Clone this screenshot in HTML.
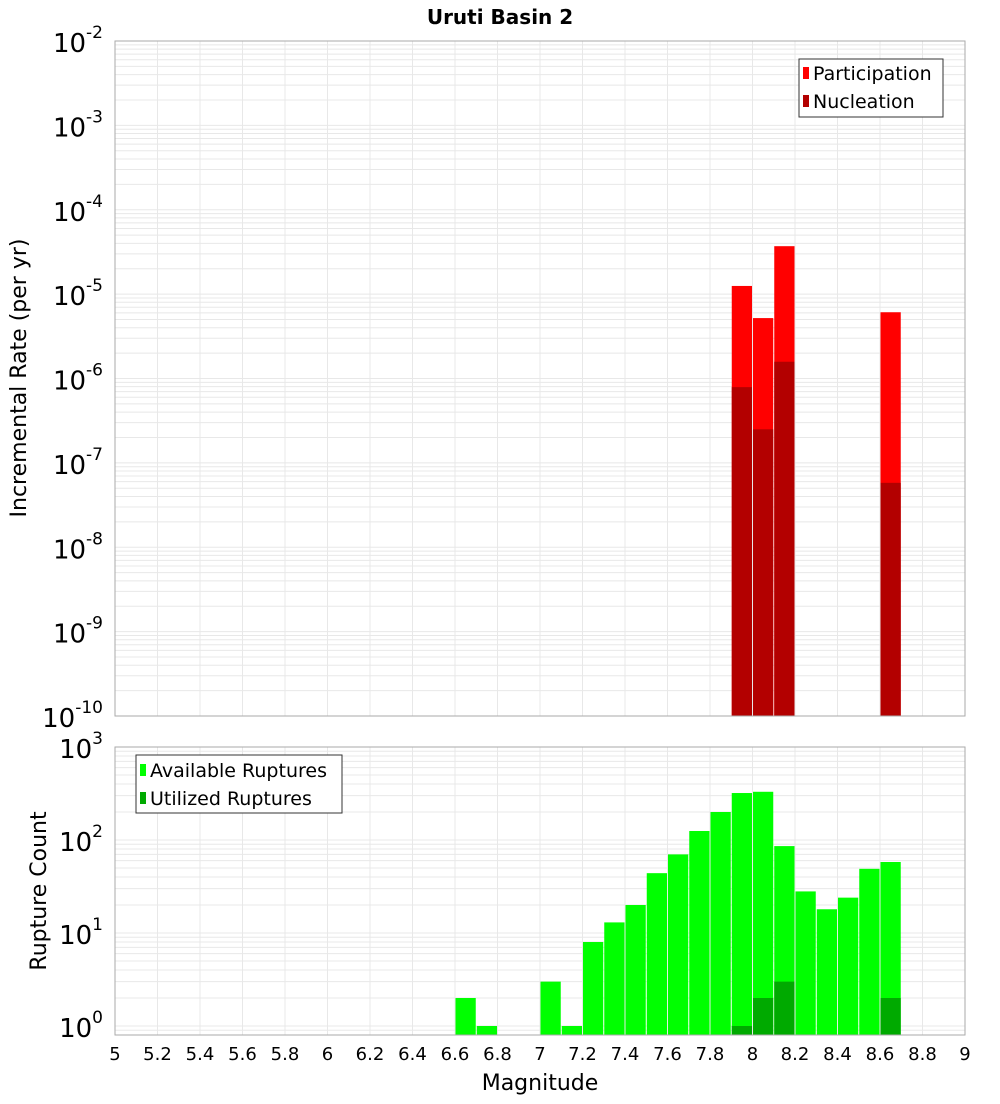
<!DOCTYPE html>
<html><head><meta charset="utf-8"><style>
body{margin:0;background:#fff;font-family:"DejaVu Sans","Liberation Sans",sans-serif;}
svg text{font-family:"DejaVu Sans","Liberation Sans",sans-serif;}
</style></head><body>
<svg id="c" width="1000" height="1100" xmlns="http://www.w3.org/2000/svg">
<text x="500" y="24" text-anchor="middle" font-size="20" font-weight="bold">Uruti Basin 2</text>
<g id="topPlot"></g>
<g id="botPlot"></g>
<text transform="translate(26,378) rotate(-90)" text-anchor="middle" font-size="22">Incremental Rate (per yr)</text>
<text transform="translate(46,891) rotate(-90)" text-anchor="middle" font-size="22">Rupture Count</text>
<text x="540" y="1090" text-anchor="middle" font-size="22">Magnitude</text>
<g>
<rect x="799" y="59" width="144" height="58" fill="#fff" stroke="#333" stroke-width="1"/>
<rect x="803" y="67" width="6" height="12" fill="#ff0000"/>
<text x="813" y="80" font-size="19">Participation</text>
<rect x="803" y="95" width="6" height="12" fill="#b30000"/>
<text x="813" y="108" font-size="19">Nucleation</text>
</g>
<g>
<rect x="136" y="755" width="206" height="58" fill="#fff" stroke="#333" stroke-width="1"/>
<rect x="140" y="764" width="6" height="12" fill="#00ff00"/>
<text x="150" y="777" font-size="19">Available Ruptures</text>
<rect x="140" y="792" width="6" height="12" fill="#00aa00"/>
<text x="150" y="805" font-size="19">Utilized Ruptures</text>
</g>
</svg>
<script>
const rateBins=[7.9,8.0,8.1,8.6];
const participation=[1.25e-5,5.2e-6,3.7e-5,6.1e-6];
const nucleation=[7.9e-7,2.5e-7,1.58e-6,5.8e-8];
const countBins=[6.6,6.7,7.0,7.1,7.2,7.3,7.4,7.5,7.6,7.7,7.8,7.9,8.0,8.1,8.2,8.3,8.4,8.5,8.6];
const available=[2,1,3,1,8,13,20,44,70,125,200,320,330,86,28,18,24,49,58];
const utilBins=[7.9,8.0,8.1,8.6];
const utilized=[1,2,3,2];
const xTicks=["5","5.2","5.4","5.6","5.8","6","6.2","6.4","6.6","6.8","7","7.2","7.4","7.6","7.8","8","8.2","8.4","8.6","8.8","9"];
const rateExp=[-2,-3,-4,-5,-6,-7,-8,-9,-10];
const countExp=[3,2,1,0];

(function(){
const NS="http://www.w3.org/2000/svg";
const X0=115,X1=965;
const xs=m=>X0+(m-5)/4*(X1-X0);
const yTop=v=>41+(-2-Math.log10(v))*84.375;
const yBot=v=>1026-Math.log10(v)*93;
function mk(p,t,a){const e=document.createElementNS(NS,t);for(const k in a)e.setAttribute(k,a[k]);p.appendChild(e);return e;}
const gTop=document.getElementById('topPlot'),gBot=document.getElementById('botPlot');

function frame(g,yA,yB,yf,dmin,dmax){
  mk(g,'rect',{x:X0,y:yA,width:X1-X0,height:yB-yA,fill:'#fff'});
  for(let d=dmin;d<dmax;d++)for(let k=1;k<10;k++){const y=yf(k*Math.pow(10,d));if(y<yA||y>yB)continue;
    const l=mk(g,'line',{x1:X0,x2:X1,y1:y,y2:y,stroke:'#e8e8e8','stroke-width':1});
    
    }
  xTicks.forEach(t=>{const x=xs(+t);
    const l=mk(g,'line',{x1:x,x2:x,y1:yA,y2:yB,stroke:'#e8e8e8','stroke-width':1});
    
    });
}
frame(gTop,41,716,yTop,-10,-2);
frame(gBot,747,1035,yBot,-1,3);

function bar(g,m,v,yf,yB,col,name){
  const x=xs(m)+0.5,w=xs(m+0.1)-xs(m)-1,y=yf(v);
  const r=mk(g,'rect',{x:x,y:y,width:w,height:yB-y,fill:col});
  
  
}
rateBins.forEach((m,i)=>bar(gTop,m,participation[i],yTop,716,'#ff0000','bar-participation'));
rateBins.forEach((m,i)=>bar(gTop,m,nucleation[i],yTop,716,'#b30000','bar-nucleation'));
countBins.forEach((m,i)=>bar(gBot,m,available[i],yBot,1035,'#00ff00','bar-available'));
utilBins.forEach((m,i)=>bar(gBot,m,utilized[i],yBot,1035,'#00aa00','bar-utilized'));

mk(gTop,'rect',{x:X0,y:41,width:X1-X0,height:675,fill:'none',stroke:'#aaa'});
mk(gBot,'rect',{x:X0,y:747,width:X1-X0,height:288,fill:'none',stroke:'#aaa'});

function ylab(g,e,y){
  const t=mk(g,'text',{x:103,y:y+11,'text-anchor':'end','font-size':26});
  
  
  const b=mk(t,'tspan',{});b.textContent='10';
  const s=mk(t,'tspan',{dy:-14,'font-size':17});s.textContent=String(e);
}
rateExp.forEach(e=>ylab(gTop,e,yTop(Math.pow(10,e))));
countExp.forEach(e=>ylab(gBot,e,yBot(Math.pow(10,e))));
xTicks.forEach(t=>{
  const e=mk(gBot,'text',{x:xs(+t),y:1060,'text-anchor':'middle','font-size':18});
  e.textContent=t;
  
  
});
})();
</script>
</body></html>
